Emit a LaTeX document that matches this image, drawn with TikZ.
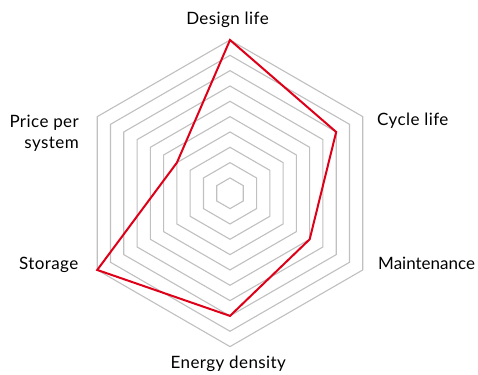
\documentclass[tikz,border=0pt]{standalone}
\usepackage{fontspec}
\setmainfont{Lato}[LetterSpace=2.5]
\usetikzlibrary{calc}
\definecolor{ringgray}{RGB}{192,192,192}
\definecolor{seriesred}{RGB}{222,0,24}
\tikzset{
  ring/.style={draw=ringgray, line width=1.1pt, line join=miter},
  series/.style={draw=seriesred, line width=2pt, line join=miter},
  axislabel/.style={font=\fontsize{17}{21}\selectfont, text=black, inner sep=0pt},
  tightlabel/.style={axislabel, font=\fontsize{17}{21}\selectfont\addfontfeatures{LetterSpace=0}}
}
\begin{document}
\begin{tikzpicture}[x=1pt,y=1pt]
\useasboundingbox (0,0) rectangle (478,374);
\fill[white] (0,0) rectangle (478,374);
\begin{scope}[shift={(230,180.7)}]
  \foreach \k in {1,...,10} {
    \pgfmathsetmacro{\r}{\k*15.33}
    \draw[ring] (90:\r pt) -- (30:\r pt) -- (-30:\r pt) -- (-90:\r pt) -- (210:\r pt) -- (150:\r pt) -- cycle;
  }
  \coordinate (vdesign) at (90:153.3pt);
  \coordinate (vcycle) at (30:122.6pt);
  \coordinate (vmaint) at (-30:92pt);
  \coordinate (venergy) at (-90:122.6pt);
  \coordinate (vstorage) at (210:153.3pt);
  \coordinate (vprice) at (150:61.3pt);
  \draw[series] (vdesign) -- (vcycle) -- (vmaint) -- (venergy) -- (vstorage) -- (vprice) -- cycle;
\end{scope}
\node[axislabel, anchor=base] (ldesign) at (227.5,349) {Design life};
\node[axislabel, anchor=base west] (lcycle) at (377,248) {Cycle life};
\node[tightlabel, anchor=base west] (lmaint) at (378,104.5) {Maintenance};
\node[axislabel, anchor=base] (lenergy) at (228.3,6) {Energy density};
\node[axislabel, anchor=base east] (lstorage) at (78.5,104.5) {Storage};
\node[axislabel, anchor=east, align=right] (lprice) at (79,241) {Price per\\system};
\end{tikzpicture}
\end{document}
